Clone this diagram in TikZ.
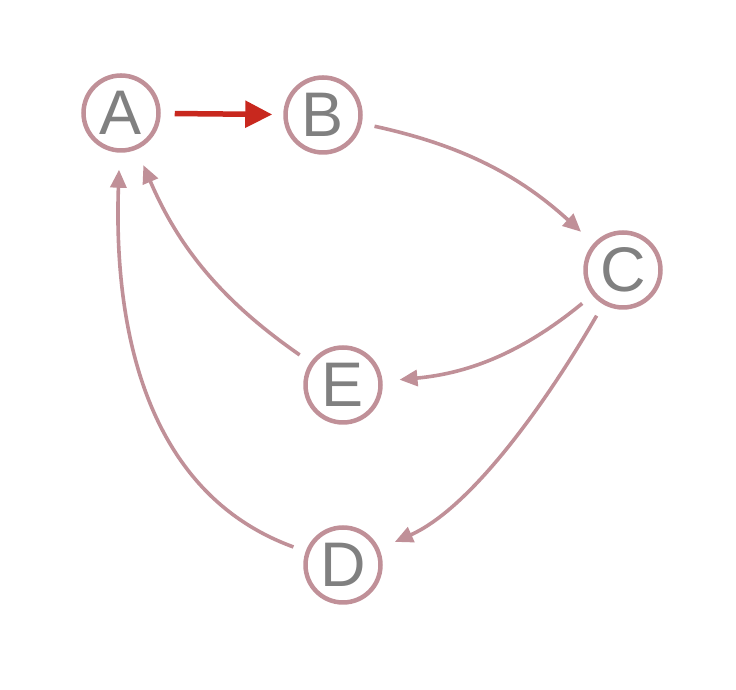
\documentclass[tikz,border=0pt]{standalone}
\usepackage{fontspec}
\setmainfont{Liberation Sans}
\usetikzlibrary{arrows.meta}
\definecolor{ring}{RGB}{192,144,152}
\definecolor{txt}{RGB}{128,128,128}
\definecolor{redarr}{RGB}{200,40,30}
\begin{document}
\begin{tikzpicture}[x=1pt,y=1pt,
  vertex/.style={circle,draw=ring,line width=4.5pt,minimum size=75pt,inner sep=0pt,
    text=txt,font=\fontsize{63}{63}\selectfont},
  link/.style={draw=ring,line width=3.6pt,-{Triangle[length=18pt,width=16pt]},
    shorten <=13pt,shorten >=17pt},
  mainlink/.style={draw=redarr,line width=5.5pt,-{Triangle[length=27pt,width=26pt]},
    shorten <=14pt,shorten >=11pt}]
\useasboundingbox (0,0) rectangle (736,690);
\node[vertex] (A) at (121,577) {A};
\node[vertex] (B) at (323,575) {B};
\node[vertex] (C) at (623,420) {C};
\node[vertex] (E) at (343,305) {E};
\node[vertex] (D) at (343,125) {D};
\draw[mainlink] (A) -- (B);
\draw[link] (B) to[bend left=15] (C);
\draw[link] (C) to[bend left=17] (E);
\draw[link] (C) to[out=240,in=24,looseness=0.8] (D);
\draw[link] (E) to[bend left=16] (A);
\draw[link] (D) to[out=160,in=268] (A);
\end{tikzpicture}
\end{document}
